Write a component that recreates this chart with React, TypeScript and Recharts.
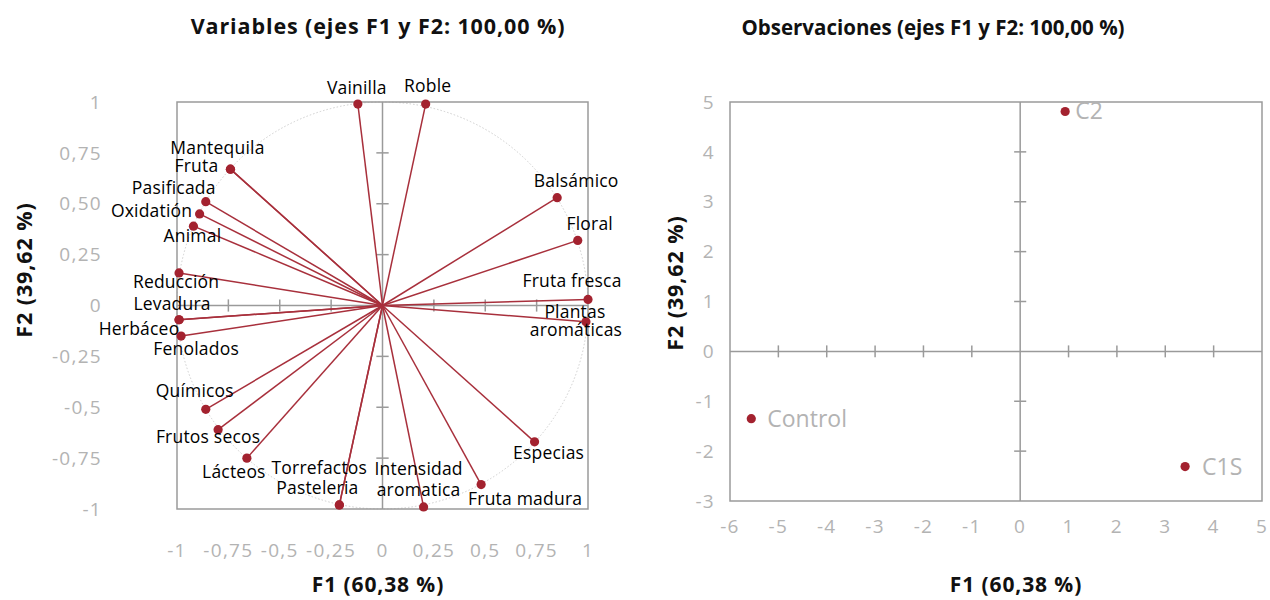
import React from "react";
import {
  ScatterChart,
  Scatter,
  XAxis,
  YAxis,
  ReferenceLine,
  ReferenceArea,
} from "recharts";

// ---------- Data ----------
const variableNames = [
  "Vainilla", "Roble", "Mantequila", "Fruta", "Pasificada", "Oxidatión", "Animal",
  "Reducción", "Levadura", "Herbáceo", "Fenolados", "Químicos", "Frutos secos",
  "Lácteos", "Torrefactos", "Pasteleria", "Intensidad\naromatica", "Fruta madura",
  "Especias", "Plantas\naromáticas", "Fruta fresca", "Floral", "Balsámico",
];
const variableF1 = [
  -0.12, 0.21, -0.74, -0.74, -0.86, -0.89, -0.92, -0.99, -0.99, -0.99, -0.98, -0.86,
  -0.8, -0.66, -0.21, -0.21, 0.2, 0.48, 0.74, 0.99, 1.0, 0.95, 0.85,
];
const variableF2 = [
  0.99, 0.99, 0.67, 0.67, 0.51, 0.45, 0.39, 0.16, -0.07, -0.07, -0.15, -0.51, -0.61,
  -0.75, -0.98, -0.98, -0.99, -0.88, -0.67, -0.08, 0.03, 0.32, 0.53,
];

const observationNames = ["Control", "C1S", "C2"];
const observationF1 = [-5.56, 3.41, 0.93];
const observationF2 = [-1.35, -2.31, 4.81];

const varXTicks = [-1, -0.75, -0.5, -0.25, 0, 0.25, 0.5, 0.75, 1];
const varXTickLabels = ["-1", "-0,75", "-0,5", "-0,25", "0", "0,25", "0,5", "0,75", "1"];
const varYTicks = [-1, -0.75, -0.5, -0.25, 0, 0.25, 0.5, 0.75, 1];
const varYTickLabels = ["-1", "-0,75", "-0,5", "-0,25", "0", "0,25", "0,50", "0,75", "1"];

const obsXTicks = [-6, -5, -4, -3, -2, -1, 0, 1, 2, 3, 4, 5];
const obsXTickLabels = ["-6", "-5", "-4", "-3", "-2", "-1", "0", "1", "2", "3", "4", "5"];
const obsYTicks = [-3, -2, -1, 0, 1, 2, 3, 4, 5];
const obsYTickLabels = ["-3", "-2", "-1", "0", "1", "2", "3", "4", "5"];

const titleVariables = "Variables (ejes F1 y F2: 100,00 %)";
const titleObservations = "Observaciones (ejes F1 y F2: 100,00 %)";
const axisF1 = "F1 (60,38 %)";
const axisF2 = "F2 (39,62 %)";

// ---------- Layout / style (not data) ----------
const varLabelOffsets: Record<string, [number, number][]> = {
  "Vainilla": [[-1, -16]],
  "Roble": [[2, -18]],
  "Mantequila": [[-13, -21]],
  "Fruta": [[-34, -3]],
  "Pasificada": [[-32, -14]],
  "Oxidatión": [[-48, -3]],
  "Animal": [[-1, 10]],
  "Reducción": [[-3, 9]],
  "Levadura": [[-7, -16]],
  "Herbáceo": [[-40, 9]],
  "Fenolados": [[15, 13]],
  "Químicos": [[-11, -18]],
  "Frutos secos": [[-10, 7]],
  "Lácteos": [[-13, 14]],
  "Torrefactos": [[-20, -37]],
  "Pasteleria": [[-22, -17]],
  "Intensidad\naromatica": [[-5, -38], [-5, -17]],
  "Fruta madura": [[44, 14]],
  "Especias": [[14, 11]],
  "Plantas\naromáticas": [[-11, -10], [-10, 8]],
  "Fruta fresca": [[-16, -18]],
  "Floral": [[12, -16]],
  "Balsámico": [[19, -17]],
};
const obsLabelDx: Record<string, number> = { Control: 16, C1S: 17, C2: 10 };

const RED = "#a3222f";
const LINE_RED = "#a8303c";
const AXIS = "#9a9a9a";
const TICK = "#b3b3b3";
const FONT = "'Open Sans', 'Noto Sans', sans-serif";

const variables = variableNames.map((name, i) => ({ name, x: variableF1[i], y: variableF2[i] }));
const observations = observationNames.map((name, i) => ({ name, x: observationF1[i], y: observationF2[i] }));

const fmt = (ticks: number[], labels: string[]) => (v: number) => {
  const i = ticks.findIndex((t) => Math.abs(t - v) < 1e-9);
  return i >= 0 ? labels[i] : String(v);
};

const VarShape = (props: any) => {
  const { cx, cy } = props;
  const name: string = props.payload?.name ?? props.name;
  const lines = name.split("\n");
  const offs = varLabelOffsets[name] || [[0, -14]];
  return (
    <g>
      <circle cx={cx} cy={cy} r={4.6} fill={RED} />
      {lines.map((l, i) => (
        <text
          key={i}
          x={cx + (offs[i] ? offs[i][0] : 0)}
          y={cy + (offs[i] ? offs[i][1] : 0) + 6}
          textAnchor="middle"
          fill="#000"
          fontSize={17.5}
          letterSpacing={0.2}
          fontFamily={FONT}
        >
          {l}
        </text>
      ))}
    </g>
  );
};

const ObsShape = (props: any) => {
  const { cx, cy } = props;
  const name: string = props.payload?.name ?? props.name;
  return (
    <g>
      <circle cx={cx} cy={cy} r={4.6} fill={RED} />
      <text
        x={cx + (obsLabelDx[name] ?? 14)}
        y={cy + 8}
        textAnchor="start"
        fill={TICK}
        fontSize={23}
        fontFamily={FONT}
      >
        {name}
      </text>
    </g>
  );
};

const BoxWithCircle = (props: any) => {
  const { x, y, width, height } = props;
  return (
    <g>
      <ellipse
        cx={x + width / 2}
        cy={y + height / 2}
        rx={width / 2}
        ry={height / 2}
        fill="none"
        stroke="#cfcfcf"
        strokeWidth={1}
        strokeDasharray="1.5 2"
      />
      <rect x={x} y={y} width={width} height={height} fill="none" stroke={AXIS} strokeWidth={1.5} />
    </g>
  );
};

const Box = (props: any) => {
  const { x, y, width, height } = props;
  return <rect x={x} y={y} width={width} height={height} fill="none" stroke={AXIS} strokeWidth={1.5} />;
};

const tickStyle = { fill: TICK, fontSize: 19, fontFamily: FONT, letterSpacing: 1.3 };

const VAR_TICK_HALF = 0.03;
const OBS_TICK_HALF_Y = 0.12;
const OBS_TICK_HALF_X = 0.125;

const titleProps = {
  fontFamily: FONT,
  fontWeight: 700,
  fontSize: 21.5,
  letterSpacing: 0.9,
  fill: "#111",
  textAnchor: "middle" as const,
};

export default function App() {
  return (
    <div style={{ position: "absolute", left: 0, top: 0, width: 1270, height: 600, background: "#fff" }}>
      <div style={{ position: "absolute", left: 0, top: 0 }}>
        <ScatterChart width={640} height={600} margin={{ top: 102, right: 52, bottom: 51, left: 117 }}>
          <XAxis
            type="number"
            dataKey="x"
            domain={[-1, 1]}
            ticks={varXTicks}
            tickFormatter={fmt(varXTicks, varXTickLabels)}
            axisLine={false}
            tickLine={false}
            tickSize={0}
            tickMargin={35}
            height={40}
            tick={tickStyle}
            interval={0}
          />
          <YAxis
            type="number"
            dataKey="y"
            domain={[-1, 1]}
            ticks={varYTicks}
            tickFormatter={fmt(varYTicks, varYTickLabels)}
            axisLine={false}
            tickLine={false}
            tickSize={0}
            tickMargin={75}
            width={60}
            tick={tickStyle}
            interval={0}
          />
          <ReferenceArea x1={-1} x2={1} y1={-1} y2={1} shape={BoxWithCircle} ifOverflow="visible" />
          <ReferenceLine x={0} stroke={AXIS} strokeWidth={1.5} />
          <ReferenceLine y={0} stroke={AXIS} strokeWidth={1.5} />
          {varXTicks
            .filter((t) => t !== 0 && Math.abs(t) !== 1)
            .map((t) => (
              <ReferenceLine
                key={"xt" + t}
                segment={[{ x: t, y: -VAR_TICK_HALF }, { x: t, y: VAR_TICK_HALF }]}
                stroke={AXIS}
                strokeWidth={1.5}
                ifOverflow="visible"
              />
            ))}
          {varYTicks
            .filter((t) => t !== 0 && Math.abs(t) !== 1)
            .map((t) => (
              <ReferenceLine
                key={"yt" + t}
                segment={[{ x: -VAR_TICK_HALF, y: t }, { x: VAR_TICK_HALF, y: t }]}
                stroke={AXIS}
                strokeWidth={1.5}
                ifOverflow="visible"
              />
            ))}
          {variables.map((v) => (
            <ReferenceLine
              key={"v" + v.name}
              segment={[{ x: 0, y: 0 }, { x: v.x, y: v.y }]}
              stroke={LINE_RED}
              strokeWidth={1.5}
              ifOverflow="visible"
            />
          ))}
          <Scatter data={variables} shape={VarShape} isAnimationActive={false} />
        </ScatterChart>
      </div>

      <div style={{ position: "absolute", left: 640, top: 0 }}>
        <ScatterChart width={630} height={600} margin={{ top: 102, right: 8, bottom: 59, left: 30 }}>
          <XAxis
            type="number"
            dataKey="x"
            domain={[-6, 5]}
            ticks={obsXTicks}
            tickFormatter={fmt(obsXTicks, obsXTickLabels)}
            axisLine={false}
            tickLine={false}
            tickSize={0}
            tickMargin={19}
            height={40}
            tick={tickStyle}
            interval={0}
          />
          <YAxis
            type="number"
            dataKey="y"
            domain={[-3, 5]}
            ticks={obsYTicks}
            tickFormatter={fmt(obsYTicks, obsYTickLabels)}
            axisLine={false}
            tickLine={false}
            tickSize={0}
            tickMargin={15}
            width={60}
            tick={tickStyle}
            interval={0}
          />
          <ReferenceArea x1={-6} x2={5} y1={-3} y2={5} shape={Box} ifOverflow="visible" />
          <ReferenceLine x={0} stroke={AXIS} strokeWidth={1.5} />
          <ReferenceLine y={0} stroke={AXIS} strokeWidth={1.5} />
          {obsXTicks
            .filter((t) => t !== 0 && t !== -6 && t !== 5)
            .map((t) => (
              <ReferenceLine
                key={"oxt" + t}
                segment={[{ x: t, y: -OBS_TICK_HALF_Y }, { x: t, y: OBS_TICK_HALF_Y }]}
                stroke={AXIS}
                strokeWidth={1.5}
                ifOverflow="visible"
              />
            ))}
          {obsYTicks
            .filter((t) => t !== 0 && t !== -3 && t !== 5)
            .map((t) => (
              <ReferenceLine
                key={"oyt" + t}
                segment={[{ x: -OBS_TICK_HALF_X, y: t }, { x: OBS_TICK_HALF_X, y: t }]}
                stroke={AXIS}
                strokeWidth={1.5}
                ifOverflow="visible"
              />
            ))}
          <Scatter data={observations} shape={ObsShape} isAnimationActive={false} />
        </ScatterChart>
      </div>

      <svg
        width={1270}
        height={600}
        style={{ position: "absolute", left: 0, top: 0, pointerEvents: "none" }}
      >
        <text x={378} y={34} {...titleProps}>
          {titleVariables}
        </text>
        <text x={933} y={35} {...titleProps} fontSize={20.5} letterSpacing={0}>
          {titleObservations}
        </text>
        <text x={378} y={592} {...titleProps} fontSize={21}>
          {axisF1}
        </text>
        <text x={1016} y={592} {...titleProps} fontSize={21}>
          {axisF1}
        </text>
        <text x={0} y={0} transform="translate(32,270) rotate(-90)" {...titleProps}>
          {axisF2}
        </text>
        <text x={0} y={0} transform="translate(683,283) rotate(-90)" {...titleProps}>
          {axisF2}
        </text>
      </svg>
    </div>
  );
}
